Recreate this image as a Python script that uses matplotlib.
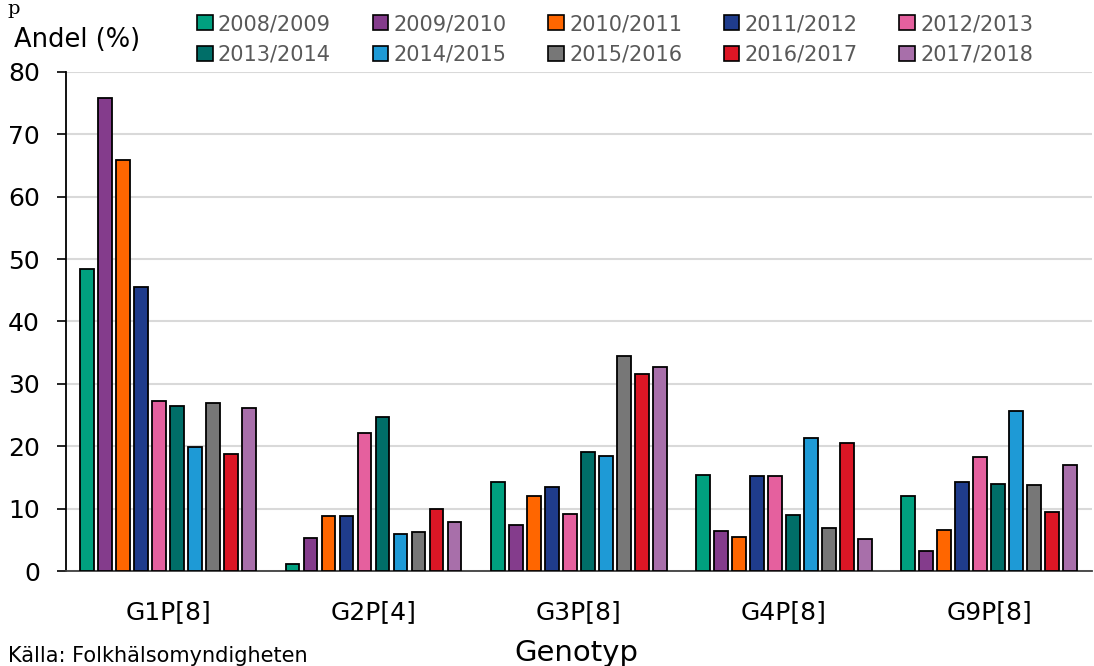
import numpy as np
import matplotlib
matplotlib.use('Agg')
import matplotlib.pyplot as plt
from matplotlib.patches import Patch

plt.rcParams['font.family'] = ['DejaVu Sans']

genotypes = ['G1P[8]', 'G2P[4]', 'G3P[8]', 'G4P[8]', 'G9P[8]']
seasons = ['2008/2009', '2009/2010', '2010/2011', '2011/2012', '2012/2013',
           '2013/2014', '2014/2015', '2015/2016', '2016/2017', '2017/2018']
colors = ['#00A07F', '#843C8C', '#FF6600', '#1F3C8C', '#E5609E',
          '#006E68', '#1E9AD6', '#777777', '#DC1625', '#A86FAA']

# share (%) per season, one list per season, in genotype order
values = [
    [48.4, 1.1, 14.3, 15.4, 12.1],
    [75.8, 5.3, 7.4, 6.4, 3.2],
    [65.9, 8.8, 12.1, 5.5, 6.6],
    [45.5, 8.9, 13.4, 15.2, 14.3],
    [27.3, 22.2, 9.1, 15.2, 18.2],
    [26.4, 24.7, 19.1, 9.0, 14.0],
    [19.9, 5.9, 18.4, 21.3, 25.7],
    [26.9, 6.2, 34.5, 6.9, 13.8],
    [18.7, 9.9, 31.6, 20.5, 9.4],
    [26.1, 7.8, 32.7, 5.2, 17.0],
]

fig = plt.figure(figsize=(10.94, 6.66), dpi=100)
ax = fig.add_axes([0.060, 0.1426, 0.938, 0.7494])

x = np.arange(len(genotypes))
step = 0.0877
width = 0.068
for i, (s, c) in enumerate(zip(seasons, colors)):
    offs = (i - 4.5) * step
    ax.bar(x + offs, values[i], width=width, color=c, edgecolor='black',
           linewidth=1.3, label=s, zorder=3)

ax.set_xlim(-0.5, 4.5)
ax.set_ylim(0, 80)
ax.set_yticks(range(0, 81, 10))
ax.set_xticks(x)
ax.set_xticklabels(genotypes)
ax.tick_params(axis='x', length=0, pad=21, labelsize=18)
ax.tick_params(axis='y', length=6.5, width=1.2, labelsize=18, pad=12)
ax.grid(axis='y', color='#D9D9D9', linewidth=1.5, zorder=0)
for sp in ['top', 'right']:
    ax.spines[sp].set_visible(False)
ax.spines['left'].set_linewidth(1.3)
ax.spines['bottom'].set_color('#404040')
ax.spines['bottom'].set_linewidth(1.3)

fig.text(0.013, 0.94, 'Andel (%)', fontsize=18.5, va='center')
fig.text(0.527, 0.019, 'Genotyp', fontsize=21, ha='center', va='center')
fig.text(0.007, 0.0, 'Källa: Folkhälsomyndigheten', fontsize=15, va='bottom')
fig.text(0.007, 1.0, 'p', fontsize=14, family='serif', va='top')

# legend is filled column by column, reorder so it reads row by row
order = [0, 5, 1, 6, 2, 7, 3, 8, 4, 9]
handles = [Patch(facecolor=colors[k], edgecolor='black', linewidth=1.2) for k in order]
labels = [seasons[k] for k in order]
fig.legend(handles, labels, ncol=5, loc='upper left',
           bbox_to_anchor=(0.163, 1.007), frameon=False, fontsize=15,
           labelcolor='#595959', handlelength=0.75, handleheight=0.75,
           handletextpad=0.25, columnspacing=2.0, labelspacing=0.5)

fig.savefig('out.png', dpi=100)
